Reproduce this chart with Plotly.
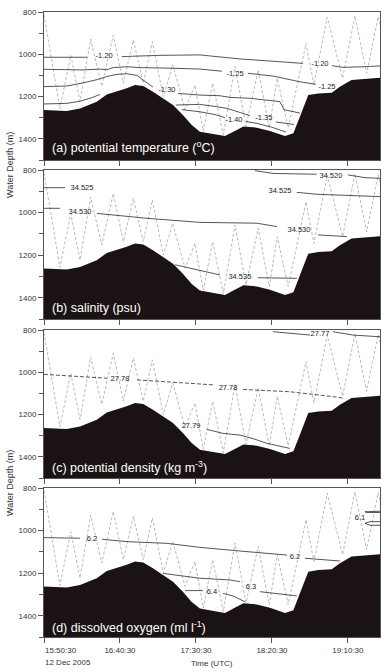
import pandas as pd
import plotly.graph_objects as go

# ---------------- data (time = minutes after 15:50:30 UTC, 12 Dec 2005) -------------
START = pd.Timestamp("2005-12-12 15:50:30")
END_MIN = 221.1
TICK_MIN = [0, 50, 100, 150, 200]
TICK_TEXT = [" ", "16:40:30", "17:30:30", "18:20:30", "19:10:30"]

# seafloor
bathy_min = [0, 14.9, 23.7, 34.7, 41.3, 47.9, 54.4, 59.9, 65.3, 71.7, 78.3, 84.9, 91.4, 97.2,
             102.6, 109.2, 119.1, 124.6, 131.2, 140.0, 148.7, 158.6, 164.1, 168.4, 173.9,
             180.5, 189.3, 194.7, 202.4, 221.1]
bathy_dep = [1263, 1268, 1256, 1224, 1190, 1177, 1161, 1145, 1150, 1177, 1208, 1240, 1287, 1335,
             1366, 1374, 1387, 1366, 1342, 1347, 1363, 1387, 1374, 1295, 1193,
             1185, 1182, 1153, 1122, 1111]

# tow-yo CTD path
tow_min = [0, 10.5, 17.6, 23.7, 30.7, 38.0, 45.6, 52.2, 58.8, 65.3, 71.3, 78.5, 84.7, 92.8,
           99.3, 104.8, 111.0, 118.0, 125.7, 132.9, 141.0, 148.2, 153.5, 160.7, 172.4, 177.6,
           186.4, 196.5, 204.6, 212.3, 219.9, 227.6]
tow_dep = [812, 1258, 1005, 1223, 928, 1152, 910, 1137, 933, 1137, 941, 1200, 1050, 1262,
           1145, 1364, 1137, 1380, 1058, 1340, 1074, 1348, 1113, 1348, 949, 1145,
           825, 1113, 818, 1090, 822, 1080]

# (a) potential temperature contours
ta120_min = [0, 28.3, None, 51.3, 76.3, 102.6, 128.9, 148.7, 170.4, None, 189.5, 196.7, 209.9, 221.1]
ta120_dep = [1014, 1014, None, 1011, 1005, 1003, 1022, 1032, 1043, None, 1054, 1062, 1059, 1055]
ta125_min = [0, 25.7, 36.8, 41.4, 45.4, 54.6, 63.2, 74.3, 84.9, 102.6, 117.1, None, 134.2, 150.7, 168.4, 178.9]
ta125_dep = [1071, 1074, 1070, 1073, 1063, 1059, 1063, 1066, 1066, 1070, 1080, None, 1090, 1103, 1130, 1142]
ta130_min = [0, 15.1, 25.7, 34.9, 41.4, 48.0, 54.6, 61.2, 66.4, 71.7, None,
             88.2, 102.6, 115.8, 122.4, 135.5, 144.1, 155.3, 157.9, 168.4]
ta130_dep = [1153, 1150, 1135, 1120, 1105, 1095, 1092, 1100, 1128, 1155, None,
             1185, 1193, 1196, 1204, 1208, 1216, 1224, 1262, 1278]
ta135_min = [0, 15.1, 23.7, 31.6, 36.8, None, 86.8, 102.6, 113.8, 120.4, 128.9, 135.5, None, 152.6, 164.5]
ta135_dep = [1235, 1232, 1222, 1205, 1190, None, 1240, 1237, 1248, 1256, 1275, 1290, None, 1320, 1332]
ta140_min = [90.8, 102.6, 112.5, 119.1, None, 132.9, 140.8, 150.0, 159.2]
ta140_dep = [1262, 1272, 1285, 1300, None, 1318, 1328, 1345, 1368]
labA_text = ["-1.20", "-1.20", "-1.25", "-1.25", "-1.30", "-1.35", "-1.40"]
labA_min = [39.5, 181.6, 125.7, 186.2, 80.9, 144.7, 125.0]
labA_dep = [1009, 1048, 1093, 1153, 1169, 1303, 1313]

# (b) salinity contours
sb520_min = [138.8, 150.7, 179.4, None, 200.0, 211.2, 221.1]
sb520_dep = [803, 816, 820, None, 823, 836, 839]
sb525_min = [0, 13.8, None, 166.4, 179.6, 221.1]
sb525_dep = [883, 883, None, 905, 914, 925]
sb530_min = [0, 10.5, None, 34.9, 67.8, 102.6, 140.1, 153.3, None, 180.3, 194.7, 199.3]
sb530_dep = [980, 980, None, 1004, 1027, 1046, 1050, 1066, None, 1105, 1113, 1113]
sb535_min = [86.2, 96.1, 115.8, None, 140.8, 166.4]
sb535_dep = [1245, 1262, 1293, None, 1306, 1309]
labB_text = ["34.520", "34.525", "34.525", "34.530", "34.530", "34.535"]
labB_min = [188.8, 25.0, 155.3, 23.7, 167.8, 128.9]
labB_dep = [827, 886, 899, 996, 1084, 1301]

# (c) potential density contours
dc777_min = [150.7, 175.0, None, 190.1, 203.3, 221.1]
dc777_dep = [808, 824, None, 808, 824, 832]
dc778_min = [0, 41.4, None, 61.2, 102.6, 112.5, None, 130.9, 161.8, 190.1, 196.7]
dc778_dep = [1010, 1028, None, 1036, 1055, 1060, None, 1081, 1092, 1115, 1122]
dc779_min = [107.2, 117.8, 128.9, 136.8, 146.7, 161.8]
dc779_dep = [1270, 1289, 1297, 1312, 1336, 1360]
labC_text = ["27.77", "27.78", "27.78", "27.79"]
labC_min = [181.6, 50.0, 121.1, 96.8]
labC_dep = [821, 1033, 1076, 1257]

# (d) dissolved oxygen contours
od61_min = [221.1, 213.2, 211.2, 213.2, 221.1, None, 221.1, 214.5, 211.2, 214.5, 221.1]
od61_dep = [909, 909, 912, 915, 915, None, 958, 958, 966, 975, 975]
od62_min = [0, 23.7, None, 38.2, 54.6, 80.9, 102.6, 128.9, 159.9, None, 171.7, 183.6, 194.7]
od62_dep = [1033, 1036, None, 1041, 1052, 1060, 1079, 1096, 1115, None, 1130, 1138, 1143]
od63_min = [78.3, 102.6, 122.4, 128.9, None, 142.1, 166.4]
od63_dep = [1201, 1224, 1232, 1240, None, 1287, 1307]
od64_min = [92.8, 104.6, None, 117.8, 124.3, 132.2]
od64_dep = [1282, 1282, None, 1295, 1307, 1334]
labD_text = ["6.1", "6.2", "6.2", "6.3", "6.4"]
labD_min = [207.9, 31.6, 165.1, 136.2, 110.5]
labD_dep = [942, 1038, 1123, 1265, 1287]

PANEL_TITLES = ["(a) potential temperature (<sup>o</sup>C)", "(b) salinity (psu)",
                "(c) potential density (kg m<sup>-3</sup>)", "(d) dissolved oxygen (ml l<sup>-1</sup>)"]

# ---------------- helpers ----------------
def tm(mins):
    return [None if m is None else START + pd.Timedelta(minutes=m) for m in mins]

FONT = "Liberation Sans, Arial, sans-serif"
LINE_C = "#2b2b2b"
FLOOR_C = "#1b1313"

panels = [
    dict(contours=[(ta120_min, ta120_dep, "solid"), (ta125_min, ta125_dep, "solid"),
                   (ta130_min, ta130_dep, "solid"), (ta135_min, ta135_dep, "solid"),
                   (ta140_min, ta140_dep, "solid")],
         labels=(labA_text, labA_min, labA_dep)),
    dict(contours=[(sb520_min, sb520_dep, "solid"), (sb525_min, sb525_dep, "solid"),
                   (sb530_min, sb530_dep, "solid"), (sb535_min, sb535_dep, "solid")],
         labels=(labB_text, labB_min, labB_dep)),
    dict(contours=[(dc777_min, dc777_dep, "solid"), (dc778_min, dc778_dep, "4px,2px"),
                   (dc779_min, dc779_dep, "solid")],
         labels=(labC_text, labC_min, labC_dep)),
    dict(contours=[(od61_min, od61_dep, "solid"), (od62_min, od62_dep, "solid"),
                   (od63_min, od63_dep, "solid"), (od64_min, od64_dep, "solid")],
         labels=(labD_text, labD_min, labD_dep)),
]

# panel pixel layout: margins l=44, r=7, t=12, b=35 -> plot height 625
PH = 625.0
pix = [(12, 160), (170, 319), (330, 478), (488, 637)]
domains = [[1 - (b - 12) / PH, 1 - (t - 12) / PH] for t, b in pix]

fig = go.Figure()
x_end = START + pd.Timedelta(minutes=END_MIN)

for i, p in enumerate(panels):
    xa = "x" if i == 0 else f"x{i+1}"
    ya = "y" if i == 0 else f"y{i+1}"
    # tow-yo path
    fig.add_trace(go.Scatter(x=tm(tow_min), y=tow_dep, mode="lines", xaxis=xa, yaxis=ya,
                             line=dict(color="#a8a8a8", width=0.8, dash="3px,2px"),
                             hoverinfo="skip", showlegend=False))
    for cm, cd, dash in p["contours"]:
        fig.add_trace(go.Scatter(x=tm(cm), y=cd, mode="lines", xaxis=xa, yaxis=ya,
                                 line=dict(color=LINE_C, width=0.8, dash=dash),
                                 connectgaps=False, hoverinfo="skip", showlegend=False))
    # seafloor
    fx = tm(bathy_min) + [x_end, START]
    fy = bathy_dep + [1520, 1520]
    fig.add_trace(go.Scatter(x=fx, y=fy, mode="lines", fill="toself", fillcolor=FLOOR_C,
                             line=dict(width=0, color=FLOOR_C), xaxis=xa, yaxis=ya,
                             hoverinfo="skip", showlegend=False))
    lt, lm, ld = p["labels"]
    fig.add_trace(go.Scatter(x=tm(lm), y=ld, mode="text", text=lt, xaxis=xa, yaxis=ya,
                             textfont=dict(family=FONT, size=7.5, color="#222222"),
                             hoverinfo="skip", showlegend=False))

layout = dict(
    width=387, height=672, autosize=False,
    margin=dict(l=44, r=7, t=12, b=35, pad=0),
    paper_bgcolor="white", plot_bgcolor="white",
    font=dict(family=FONT, size=8, color="#333333"),
    showlegend=False, hovermode=False,
)
tickvals = tm(TICK_MIN)
for i in range(4):
    xk = "xaxis" if i == 0 else f"xaxis{i+1}"
    yk = "yaxis" if i == 0 else f"yaxis{i+1}"
    layout[xk] = dict(
        type="date", domain=[0, 1], anchor="y" if i == 0 else f"y{i+1}",
        range=[START, x_end], tickmode="array", tickvals=tickvals,
        ticktext=TICK_TEXT, showticklabels=(i == 3),
        ticks="outside", ticklen=5, tickwidth=1, tickcolor="#555555",
        showline=True, linecolor="#555555", linewidth=1, mirror=True,
        showgrid=False, zeroline=False, automargin=False,
        tickfont=dict(family=FONT, size=8, color="#333333"),
    )
    layout[yk] = dict(
        domain=domains[i], anchor="x" if i == 0 else f"x{i+1}",
        range=[1500, 800], tickmode="linear", tick0=800, dtick=200,
        ticks="outside", ticklen=5, tickwidth=1, tickcolor="#555555",
        minor=dict(tickmode="linear", tick0=800, dtick=100, ticks="outside", ticklen=4,
                   tickcolor="#555555"),
        showline=True, linecolor="#555555", linewidth=1, mirror=True,
        showgrid=False, zeroline=False, automargin=False,
        tickfont=dict(family=FONT, size=8, color="#333333"),
    )
fig.update_layout(**layout)

annots = []
label_y = [147, 308, 466.7, 626.7]
for i, title in enumerate(PANEL_TITLES):
    annots.append(dict(text=title, xref="paper", yref="paper",
                       x=(50 - 44) / 336.0, y=1 - (label_y[i] - 12) / PH,
                       xanchor="left", yanchor="middle", showarrow=False,
                       font=dict(family=FONT, size=12.5, color="white")))
for yc in (165, 483):
    annots.append(dict(text="Water Depth (m)", xref="paper", yref="paper",
                       x=(10 - 44) / 336.0, y=1 - (yc - 12) / PH, textangle=-90,
                       xanchor="center", yanchor="middle", showarrow=False,
                       font=dict(family=FONT, size=9, color="#333333")))
annots.append(dict(text="15:50:30", xref="paper", yref="paper", x=-0.003,
                   y=1 - (650.7 - 12) / PH, xanchor="left", yanchor="middle",
                   showarrow=False, font=dict(family=FONT, size=8, color="#333333")))
annots.append(dict(text="12 Dec 2005", xref="paper", yref="paper", x=-0.003,
                   y=1 - (662 - 12) / PH, xanchor="left", yanchor="middle",
                   showarrow=False, font=dict(family=FONT, size=8, color="#333333")))
annots.append(dict(text="Time (UTC)", xref="paper", yref="paper", x=0.5,
                   y=1 - (664 - 12) / PH, xanchor="center", yanchor="middle",
                   showarrow=False, font=dict(family=FONT, size=8, color="#333333")))
fig.update_layout(annotations=annots)

fig.write_html("out.html", config={"displayModeBar": False, "staticPlot": True},
               post_script="document.body.style.margin='0';document.body.style.overflow='hidden';")
